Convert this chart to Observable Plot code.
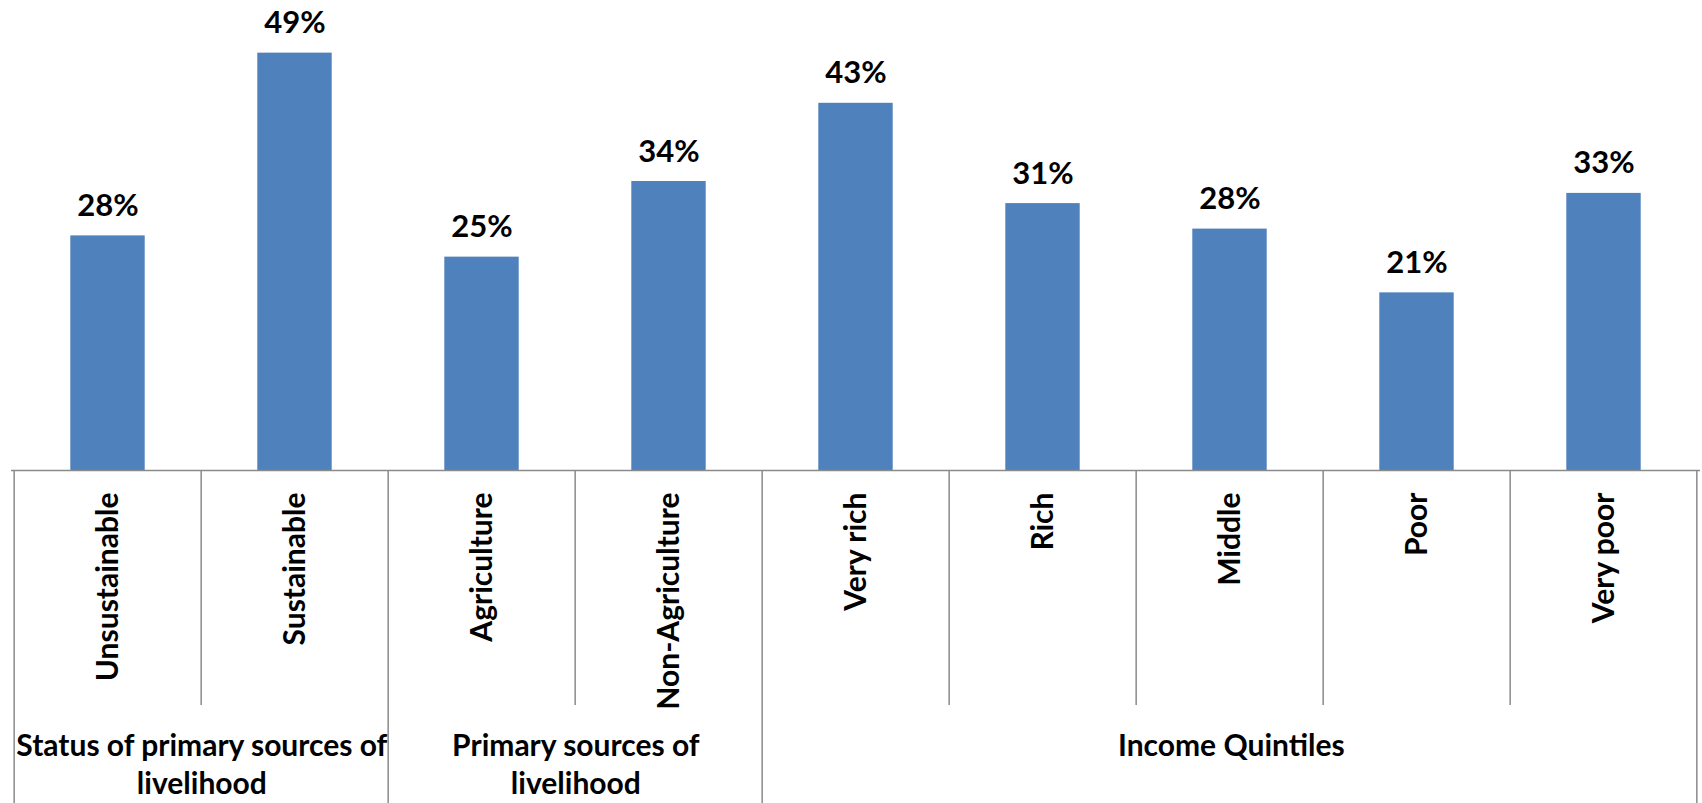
<!DOCTYPE html>
<html>
<head>
<meta charset="utf-8">
<script src="https://cdn.jsdelivr.net/npm/d3@7"></script>
<script src="https://cdn.jsdelivr.net/npm/@observablehq/plot@0.6"></script>
<style>
  html, body { margin: 0; padding: 0; background: #fff; }
  #chart svg { display: block; }
</style>
</head>
<body>
<div id="chart"></div>
<script>
// ---- data ----
const categories = ["Unsustainable", "Sustainable", "Agriculture", "Non-Agriculture", "Very rich", "Rich", "Middle", "Poor", "Very poor"];
const values = [27.6, 49.1, 25.1, 34.0, 43.2, 31.4, 28.4, 20.9, 32.6];
const valueLabels = ["28%", "49%", "25%", "34%", "43%", "31%", "28%", "21%", "33%"];
const groupNames = ["Status of primary sources of\nlivelihood", "Primary sources of\nlivelihood", "Income Quintiles"];
const groupMembers = [
  ["Unsustainable", "Sustainable"],
  ["Agriculture", "Non-Agriculture"],
  ["Very rich", "Rich", "Middle", "Poor", "Very poor"]
];

// ---- layout ----
const W = 1702, H = 803;
const mL = 11, mR = 2, mT = 45, mB = 333;
const step = (W - mL - mR) / categories.length;
const lineColor = "#8a8a8a";
const font = "Lato, 'Open Sans', sans-serif";
const fs = 30;

const data = categories.map((c, i) => ({cat: c, value: values[i], label: valueLabels[i]}));
const groupStarts = new Set(groupMembers.map(g => g[0]));
const innerSeps = categories.filter(c => !groupStarts.has(c));
const groupSeps = categories.filter(c => groupStarts.has(c));
const lastCat = categories[categories.length - 1];

const plotH = H - mT - mB;

const marks = [
  Plot.barY(data, {x: "cat", y: "value", fill: "#4f81bd", insetLeft: step * 0.3, insetRight: step * 0.3}),
  Plot.text(data, {x: "cat", y: "value", text: "label", dy: -20, lineAnchor: "bottom",
    fontSize: fs + 1, fontWeight: "bold", fill: "#000"}),
  Plot.ruleY([0], {stroke: lineColor, strokeWidth: 1.5}),
  // inner separators (stop above group labels)
  Plot.ruleX(innerSeps, {x: d => d, dx: -step / 2, stroke: lineColor, strokeWidth: 1.5,
    insetTop: plotH, insetBottom: -235}),
  // group separators (full depth)
  Plot.ruleX(groupSeps, {x: d => d, dx: -step / 2, stroke: lineColor, strokeWidth: 1.5,
    insetTop: plotH, insetBottom: -mB}),
  Plot.ruleX([lastCat], {x: d => d, dx: step / 2 - 1, stroke: lineColor, strokeWidth: 1.5,
    insetTop: plotH, insetBottom: -mB}),
  // category labels
  Plot.text(categories, {x: d => d, frameAnchor: "bottom", dy: 22, rotate: -90,
    textAnchor: "end", lineAnchor: "middle", fontSize: fs, fontWeight: "bold", fill: "#000"})
];
groupNames.forEach((g, i) => {
  const mem = groupMembers[i];
  marks.push(Plot.text([g], {x: () => mem[0], dx: step * (mem.length - 1) / 2, frameAnchor: "bottom",
    text: d => d, dy: 259, lineAnchor: "top", lineHeight: 38 / fs, fontSize: fs, fontWeight: "bold", fill: "#000"}));
});

const chart = Plot.plot({
  width: W,
  height: H,
  marginLeft: mL,
  marginRight: mR,
  marginTop: mT,
  marginBottom: mB,
  style: {fontFamily: font, background: "#fff"},
  x: {type: "band", domain: categories, padding: 0, axis: null},
  y: {domain: [0, 50], axis: null},
  marks
});
document.getElementById("chart").appendChild(chart);
</script>
</body>
</html>
